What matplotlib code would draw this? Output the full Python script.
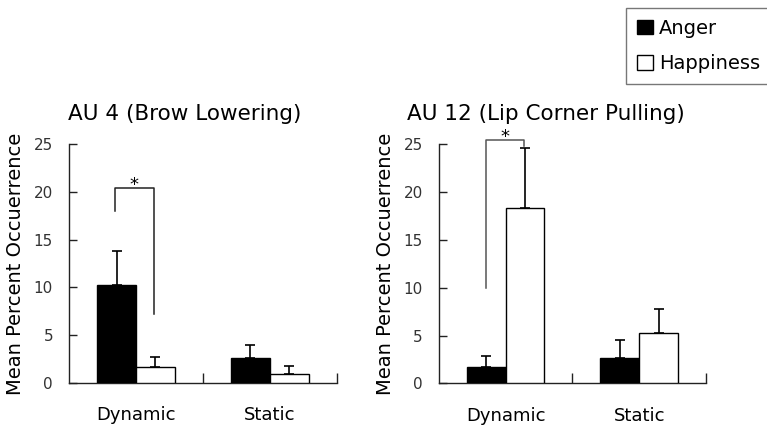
import matplotlib.pyplot as plt
import matplotlib.patches as mpatches
import numpy as np

plt.rcParams['font.family'] = ['DejaVu Sans']

categories = ["Dynamic", "Static"]
titles = ["AU 4 (Brow Lowering)", "AU 12 (Lip Corner Pulling)"]

# AU 4
au4_anger = [10.2, 2.55]
au4_anger_err = [3.6, 1.4]
au4_happy = [1.7, 0.9]
au4_happy_err = [1.0, 0.87]

# AU 12
au12_anger = [1.75, 2.6]
au12_anger_err = [1.15, 1.95]
au12_happy = [18.35, 5.3]
au12_happy_err = [6.3, 2.45]

# significance brackets: top, left leg bottom, right leg bottom
au4_bracket = [20.45, 18.0, 7.2]
au12_bracket = [25.5, 10.0, 24.8]

fig = plt.figure(figsize=(7.67, 4.28), dpi=100)
ax1 = fig.add_axes([0.0900, 0.1058, 0.349, 0.557])
ax2 = fig.add_axes([0.5720, 0.1044, 0.3485, 0.5584])

w = 0.29
x = np.arange(len(categories))

panels = [
    (ax1, au4_anger, au4_anger_err, au4_happy, au4_happy_err, au4_bracket, (-0.16, 0.135), 68, titles[0], '#222222'),
    (ax2, au12_anger, au12_anger_err, au12_happy, au12_happy_err, au12_bracket, (-0.15, 0.138), 406.7, titles[1], '#555555'),
]

for ax, ang, ang_e, hap, hap_e, br, legs, tx, title, bcol in panels:
    ekw = dict(ecolor='black', elinewidth=1.2, capsize=3.8, capthick=1.2)
    ax.bar(x - w / 2, ang, w, color='black', edgecolor='black', lw=1,
           yerr=[np.zeros(len(ang)), ang_e], error_kw=ekw, zorder=3)
    ax.bar(x + w / 2, hap, w, color='white', edgecolor='black', lw=1,
           yerr=[np.zeros(len(hap)), hap_e], error_kw=ekw, zorder=3)

    ax.set_xlim(-0.5, 1.5)
    ax.set_ylim(0, 25)
    ax.set_yticks([0, 5, 10, 15, 20, 25])
    ax.tick_params(axis='y', direction='in', length=6, width=1, pad=11.5,
                   labelsize=11, labelcolor='#333333', color='#222222')
    ax.set_xticks(x)
    ax.set_xticklabels(categories, fontsize=13)
    ax.tick_params(axis='x', length=0, pad=17)
    ax.set_xticks([0.5, 1.5], minor=True)
    ax.tick_params(axis='x', which='minor', direction='in', length=7, width=1, color='#222222')
    for s in ['top', 'right']:
        ax.spines[s].set_visible(False)
    for s in ['left', 'bottom']:
        ax.spines[s].set_color('#222222')
        ax.spines[s].set_linewidth(1)

    ax.set_ylabel("Mean Percent Occuerrence", fontsize=14)
    ax.yaxis.set_label_coords(-0.164, 0.5)

    top, lb, rb = br
    ax.plot([legs[0], legs[0], legs[1], legs[1]], [lb, top, top, rb],
            color=bcol, lw=1.1, clip_on=False, zorder=4)
    ax.annotate('*', xy=((legs[0] + legs[1]) / 2, top), xytext=(0, -2),
                textcoords='offset points', ha='center', va='baseline',
                fontsize=13, annotation_clip=False)

    fig.text(tx / 767, 1 - 120.5 / 428, title, fontsize=15.5, ha='left', va='baseline')

handles = [mpatches.Patch(facecolor='black', edgecolor='black', label='Anger'),
           mpatches.Patch(facecolor='white', edgecolor='black', label='Happiness')]
leg = fig.legend(handles=handles, loc='upper left', bbox_to_anchor=(626 / 767, 1 - 8 / 428),
                 fontsize=14, frameon=True, fancybox=False, handlelength=0.85,
                 handleheight=0.8, handletextpad=0.3, labelspacing=0.85,
                 borderpad=0.55, borderaxespad=0)
leg.get_frame().set_edgecolor('#555555')
leg.get_frame().set_linewidth(1)

fig.savefig("out.png", dpi=100)
